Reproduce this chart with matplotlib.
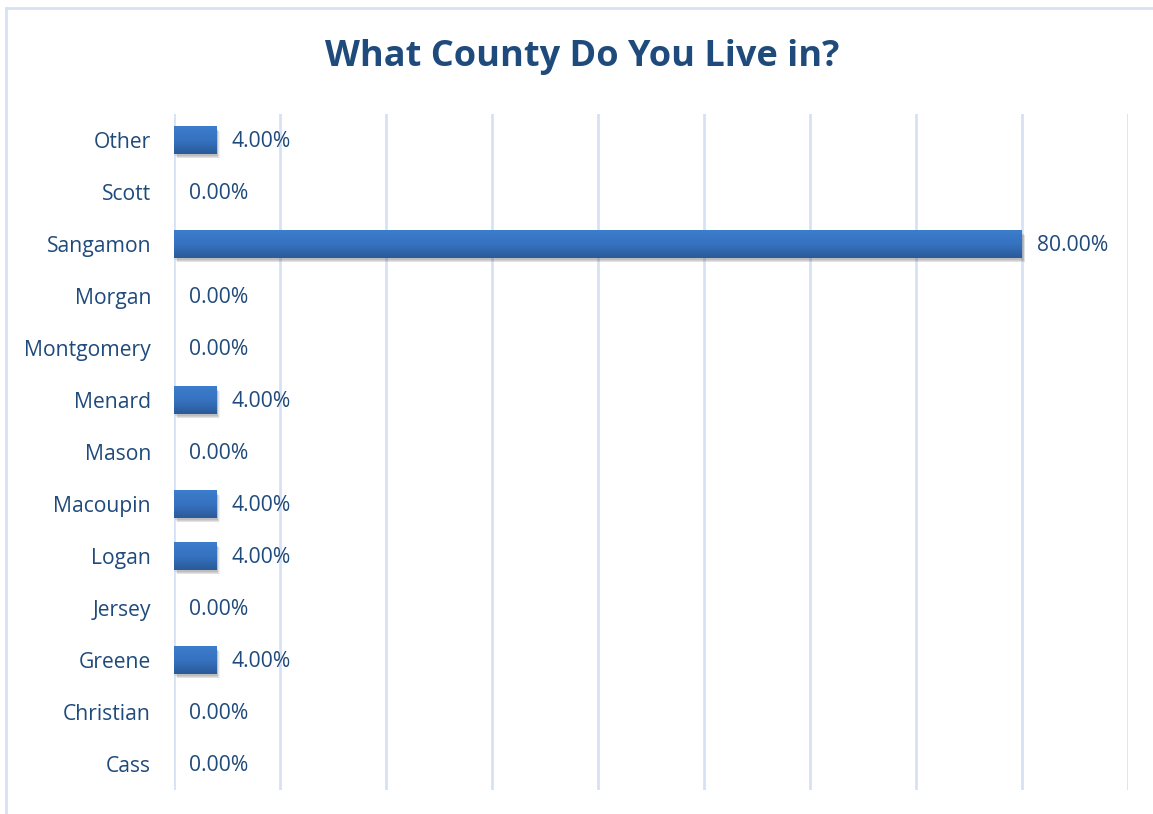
import numpy as np
import matplotlib
matplotlib.use("Agg")
import matplotlib.pyplot as plt
import matplotlib.patheffects as pe
from matplotlib.colors import LinearSegmentedColormap
from matplotlib.lines import Line2D

counties = ["Cass", "Christian", "Greene", "Jersey", "Logan", "Macoupin", "Mason",
            "Menard", "Montgomery", "Morgan", "Sangamon", "Scott", "Other"]
shares = [0.00, 0.00, 4.00, 0.00, 4.00, 4.00, 0.00, 4.00, 0.00, 0.00, 80.00, 0.00, 4.00]
x_ticks = [0, 10, 20, 30, 40, 50, 60, 70, 80, 90]

TEXT = "#1f4a7c"
GRID = "#d6e2f4"
plt.rcParams["font.family"] = ["Open Sans", "DejaVu Sans"]

fig = plt.figure(figsize=(11.53, 8.14), dpi=100)
W, H = 1153, 814
ax = fig.add_axes([174 / W, 1 - 790 / H, (1128 - 174) / W, (790 - 114) / H])

# soft drop shadow built from a few stacked translucent offsets
shadow = [pe.SimplePatchShadow(offset=(dx, dy), shadow_rgbFace="#303030", alpha=a)
          for dx, dy, a in [(2.5, -3.5, 0.06), (2.0, -3.0, 0.08), (1.5, -2.5, 0.10), (1.0, -2.0, 0.10)]]

y = np.arange(len(counties))
bars = ax.barh(y, shares, height=0.52, color="#3470bb", zorder=3,
               path_effects=shadow + [pe.Normal()])

# vertical gradient fill for each bar
grad = np.linspace(0, 1, 256).reshape(-1, 1)
cmap = LinearSegmentedColormap.from_list("barfill", ["#2b5a98", "#3672c0", "#3c7dcd"])
for b in bars:
    if b.get_width() > 0:
        x0, y0 = b.get_x(), b.get_y()
        im = ax.imshow(grad, cmap=cmap, origin="lower", aspect="auto", zorder=4,
                       extent=[x0, x0 + b.get_width(), y0, y0 + b.get_height()])
        im.set_clip_path(b)

for yi, v in zip(y, shares):
    ax.annotate(f"{v:.2f}%", xy=(v, yi), xytext=(11, -1), textcoords="offset points",
                ha="left", va="center", fontsize=15.2, color=TEXT)

ax.set_xlim(0, 90)
ax.set_ylim(-0.5, len(counties) - 0.5)
ax.set_xticks(x_ticks)
ax.set_xticklabels([])
ax.set_yticks(y)
ax.set_yticklabels(counties, fontsize=15.2, color=TEXT)
ax.tick_params(axis="both", length=0)
ax.tick_params(axis="y", pad=16.5)
ax.grid(axis="x", color=GRID, linewidth=2, zorder=0)
ax.set_axisbelow(True)
for s in ax.spines.values():
    s.set_visible(False)

fig.text(582 / W, 1 - 57 / H, "What County Do You Live in?", ha="center", va="center",
         fontsize=26, fontweight="bold", color=TEXT)

# chart area border (left and top edges)
fig.add_artist(Line2D([6 / W, 6 / W], [0, 1 - 8 / H], transform=fig.transFigure,
                      color="#d6e2f4", linewidth=2))
fig.add_artist(Line2D([6 / W, 1], [1 - 8 / H, 1 - 8 / H], transform=fig.transFigure,
                      color="#d6e2f4", linewidth=2))

fig.savefig("out.png", dpi=100)
